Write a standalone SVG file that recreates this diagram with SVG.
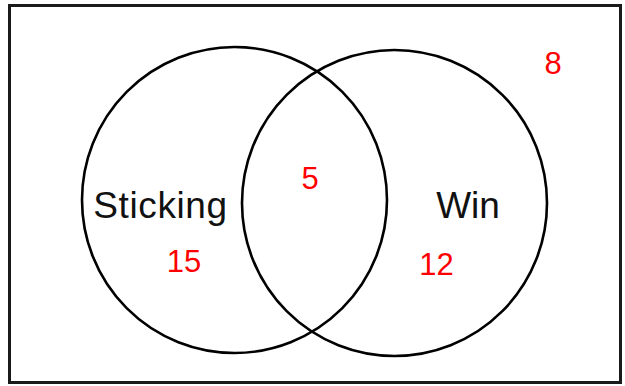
<svg xmlns="http://www.w3.org/2000/svg" width="625" height="386" viewBox="0 0 625 386">
<style>
.frame{fill:#fff;stroke:#1a1a1a;stroke-width:3}
.set{fill:none;stroke:#000;stroke-width:2.6}
.lbl{font-family:"Liberation Sans",Arial,sans-serif;font-size:37px;fill:#111;text-anchor:middle}
.num{font-family:"Liberation Sans",Arial,sans-serif;font-size:31px;fill:#ff0000;text-anchor:middle}
</style>
<rect width="625" height="386" fill="#fff"/>
<g id="universe">
<rect class="frame" x="9.5" y="5.5" width="611" height="377"/>
<text class="num" x="553" y="74">8</text>
</g>
<g id="sticking">
<ellipse class="set" cx="234.5" cy="200" rx="152.5" ry="153"/>
<text class="lbl" x="160.5" y="218" letter-spacing="0.6">Sticking</text>
<text class="num" x="184" y="272">15</text>
</g>
<g id="win">
<ellipse class="set" cx="394.5" cy="203" rx="152.5" ry="153"/>
<text class="lbl" x="468" y="218">Win</text>
<text class="num" x="436.5" y="275">12</text>
</g>
<g id="both">
<text class="num" x="310" y="189">5</text>
</g>
</svg>
